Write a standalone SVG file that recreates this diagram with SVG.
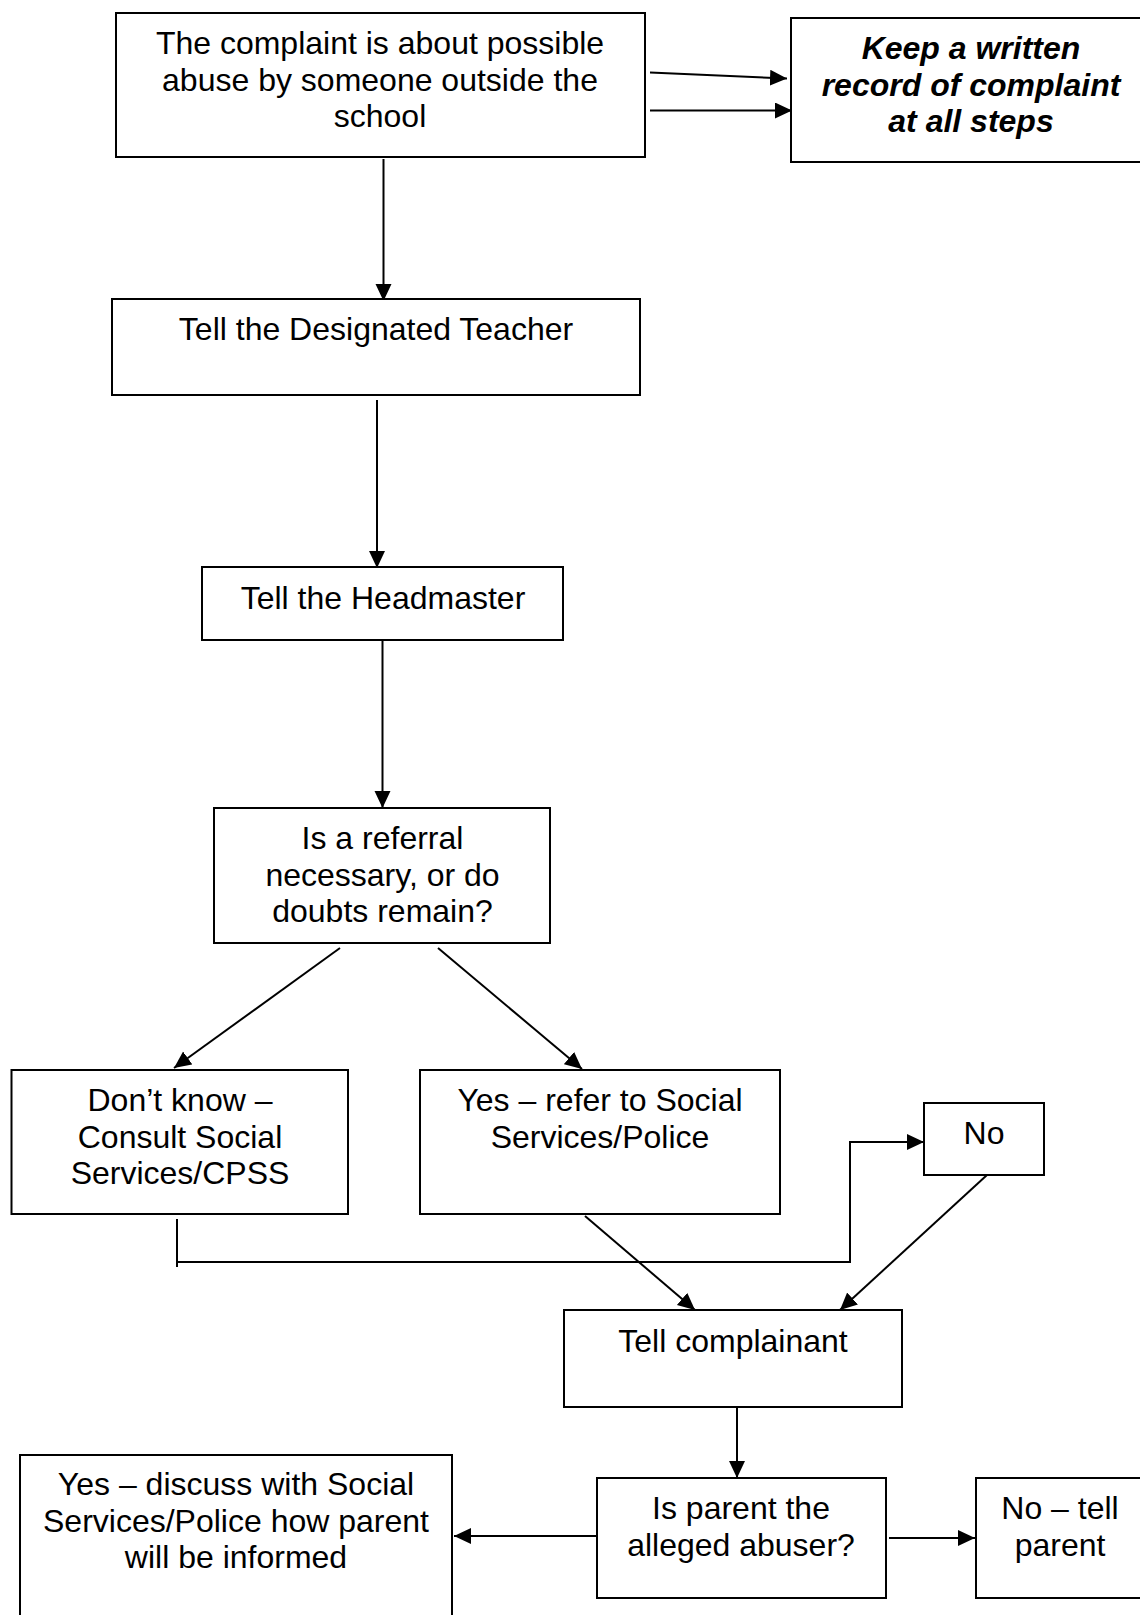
<svg xmlns="http://www.w3.org/2000/svg" width="1140" height="1615" viewBox="0 0 1140 1615">
  <style>
    .box { fill: #ffffff; stroke: #000000; stroke-width: 2; }
    .t { font-family: "Liberation Sans", Arial, sans-serif; font-size: 32px; fill: #000000; text-anchor: middle; }
    .bi { font-weight: bold; font-style: italic; }
    .ln { fill: none; stroke: #000000; stroke-width: 2; }
    .arr { marker-end: url(#ah); }
  </style>
  <defs>
    <marker id="ah" markerUnits="userSpaceOnUse" markerWidth="18" markerHeight="17" refX="17" refY="8" orient="auto">
      <path d="M0,0 L17,8 L0,16 z" fill="#000000"/>
    </marker>
  </defs>
  <rect width="1140" height="1615" fill="#ffffff"/>

  <g id="connectors">
    <line class="ln arr" x1="650" y1="72.5" x2="787" y2="78.5"/>
    <line class="ln arr" x1="650" y1="110.5" x2="792" y2="110.5"/>
    <line class="ln arr" x1="383.5" y1="159" x2="383.5" y2="301"/>
    <line class="ln arr" x1="377" y1="400" x2="377" y2="568"/>
    <line class="ln arr" x1="382.5" y1="640" x2="382.5" y2="808"/>
    <line class="ln arr" x1="340" y1="948" x2="174" y2="1068"/>
    <line class="ln arr" x1="438" y1="948" x2="582" y2="1069"/>
    <path class="ln" d="M177,1219 V1267"/>
    <path class="ln arr" d="M177,1262 H850 V1142 H924"/>
    <line class="ln arr" x1="585" y1="1216" x2="695" y2="1310"/>
    <line class="ln arr" x1="987" y1="1175" x2="840" y2="1310"/>
    <line class="ln arr" x1="737" y1="1407" x2="737" y2="1478"/>
    <line class="ln arr" x1="596" y1="1536" x2="454" y2="1536"/>
    <line class="ln arr" x1="889" y1="1538" x2="975" y2="1538"/>
  </g>

  <g id="n-complaint">
    <rect class="box" x="116" y="13" width="529" height="144"/>
    <text class="t" x="380" y="54">The complaint is about possible</text>
    <text class="t" x="380" y="91">abuse by someone outside the</text>
    <text class="t" x="380" y="127">school</text>
  </g>
  <g id="n-record">
    <rect class="box" x="791" y="18" width="360" height="144"/>
    <text class="t bi" x="971" y="59">Keep a written</text>
    <text class="t bi" x="971" y="96">record of complaint</text>
    <text class="t bi" x="971" y="132">at all steps</text>
  </g>
  <g id="n-designated">
    <rect class="box" x="112" y="299" width="528" height="96"/>
    <text class="t" x="376" y="340">Tell the Designated Teacher</text>
  </g>
  <g id="n-headmaster">
    <rect class="box" x="202" y="567" width="361" height="73"/>
    <text class="t" x="383" y="609">Tell the Headmaster</text>
  </g>
  <g id="n-referral">
    <rect class="box" x="214" y="808" width="336" height="135"/>
    <text class="t" x="382.5" y="849">Is a referral</text>
    <text class="t" x="382.5" y="886">necessary, or do</text>
    <text class="t" x="382.5" y="922">doubts remain?</text>
  </g>
  <g id="n-dontknow">
    <rect class="box" x="11.5" y="1070" width="336.5" height="144"/>
    <text class="t" x="180" y="1111">Don’t know –</text>
    <text class="t" x="180" y="1148">Consult Social</text>
    <text class="t" x="180" y="1184">Services/CPSS</text>
  </g>
  <g id="n-yesrefer">
    <rect class="box" x="420" y="1070" width="360" height="144"/>
    <text class="t" x="600" y="1111">Yes – refer to Social</text>
    <text class="t" x="600" y="1148">Services/Police</text>
  </g>
  <g id="n-no">
    <rect class="box" x="924" y="1103" width="120" height="72"/>
    <text class="t" x="984" y="1144">No</text>
  </g>
  <g id="n-tellcomplainant">
    <rect class="box" x="564" y="1310" width="338" height="97"/>
    <text class="t" x="733" y="1352">Tell complainant</text>
  </g>
  <g id="n-yesdiscuss">
    <rect class="box" x="20" y="1455" width="432" height="175"/>
    <text class="t" x="236" y="1495">Yes – discuss with Social</text>
    <text class="t" x="236" y="1532">Services/Police how parent</text>
    <text class="t" x="236" y="1568">will be informed</text>
  </g>
  <g id="n-isparent">
    <rect class="box" x="597" y="1478" width="289" height="120"/>
    <text class="t" x="741" y="1519">Is parent the</text>
    <text class="t" x="741" y="1556">alleged abuser?</text>
  </g>
  <g id="n-notell">
    <rect class="box" x="976" y="1478" width="180" height="120"/>
    <text class="t" x="1060" y="1519">No – tell</text>
    <text class="t" x="1060" y="1556">parent</text>
  </g>
</svg>
